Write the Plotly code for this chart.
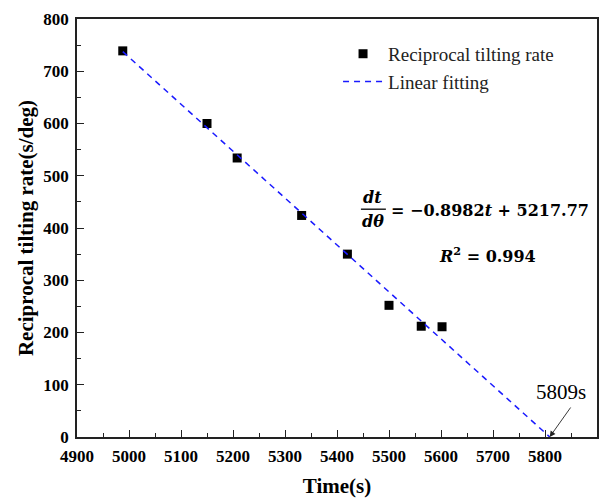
import plotly.graph_objects as go

# Measured reciprocal tilting rate
time_s = [4988, 5150, 5208, 5332, 5420, 5500, 5562, 5602]
recip_rate = [739, 600, 534, 424, 350, 252, 212, 211]

# Linear fit coefficients: dt/dθ = slope * t + intercept
slope = -0.8982
intercept = 5217.77
zero_time = 5809  # time where the fitted line reaches zero

x_ticks = [4900, 5000, 5100, 5200, 5300, 5400, 5500, 5600, 5700, 5800, 5900]
y_ticks = [0, 100, 200, 300, 400, 500, 600, 700, 800]

fit_x = [time_s[0], -intercept / slope]
fit_y = [slope * x + intercept for x in fit_x]

SERIF = "Liberation Serif"
MATH = "DejaVu Serif"

fig = go.Figure()

fig.add_trace(go.Scatter(
    x=time_s, y=recip_rate, mode="markers",
    name="Reciprocal tilting rate",
    marker=dict(symbol="square", size=9, color="black"),
))
fig.add_trace(go.Scatter(
    x=fit_x, y=fit_y, mode="lines",
    name="Linear fitting",
    line=dict(color="#1a1aff", width=1.5, dash="6px,5px"),
))

axis_common = dict(
    showline=True, linecolor="#222", linewidth=1.6, mirror=True,
    ticks="inside", ticklen=7, tickwidth=1.4, tickcolor="#222",
    showgrid=False, zeroline=False, automargin=False,
    tickfont=dict(family=SERIF, size=17, color="black", weight="bold"),
)

fig.update_xaxes(
    range=[4900, 5900], tickvals=x_ticks, ticktext=[str(v) for v in x_ticks],
    minor=dict(ticks="inside", ticklen=4, tickwidth=1.2, tickcolor="#222", dtick=50, tick0=4900),
    title=dict(text="<b>Time(s)</b>", font=dict(family=SERIF, size=21, color="black"), standoff=14),
    ticklabelstandoff=3,
    **axis_common,
)
fig.update_yaxes(
    range=[0, 800], tickvals=y_ticks, ticktext=[str(v) for v in y_ticks],
    minor=dict(ticks="inside", ticklen=4, tickwidth=1.2, tickcolor="#222", dtick=50, tick0=0),
    title=dict(text="<b>Reciprocal tilting rate(s/deg)</b>", font=dict(family=SERIF, size=21, color="black"), standoff=4),
    ticklabelstandoff=3,
    **axis_common,
)

math_font = dict(family=MATH, size=16, color="black")
annotations = [
    dict(x=5469, y=459, text="<b><i>dt</i></b>", showarrow=False, xanchor="center", yanchor="middle", font=math_font),
    dict(x=5469, y=413, text="<b><i>dθ</i></b>", showarrow=False, xanchor="center", yanchor="middle", font=math_font),
    dict(x=5500, y=434, text="<b>= −0.8982<i>t</i> + 5217.77</b>", showarrow=False, xanchor="left", yanchor="middle", font=math_font),
    dict(x=5592, y=348, text="<b><i>R</i><sup>2</sup> = 0.994</b>", showarrow=False, xanchor="left", yanchor="middle", font=math_font),
    dict(x=5831, y=86, text=f"{zero_time}s", showarrow=False, xanchor="center", yanchor="middle",
         font=dict(family=SERIF, size=21, color="black")),
    dict(x=zero_time, y=0, text="", showarrow=True, ax=22, ay=-31, axref="pixel", ayref="pixel",
         arrowhead=2, arrowsize=1.3, arrowwidth=0.9, arrowcolor="#222", standoff=0),
]

fig.update_layout(
    width=613, height=498,
    margin=dict(l=77, r=16, t=19, b=61),
    plot_bgcolor="white", paper_bgcolor="white",
    showlegend=True,
    legend=dict(x=0.502, y=0.962, xanchor="left", yanchor="top",
                bgcolor="rgba(0,0,0,0)", borderwidth=0,
                font=dict(family=SERIF, size=19, color="#222"),
                tracegroupgap=0, itemwidth=40),
    annotations=annotations,
    shapes=[dict(type="line", xref="x", yref="y", x0=5446, x1=5494, y0=436, y1=436,
                 line=dict(color="black", width=1.3))],
)

fig.write_html("out.html")
